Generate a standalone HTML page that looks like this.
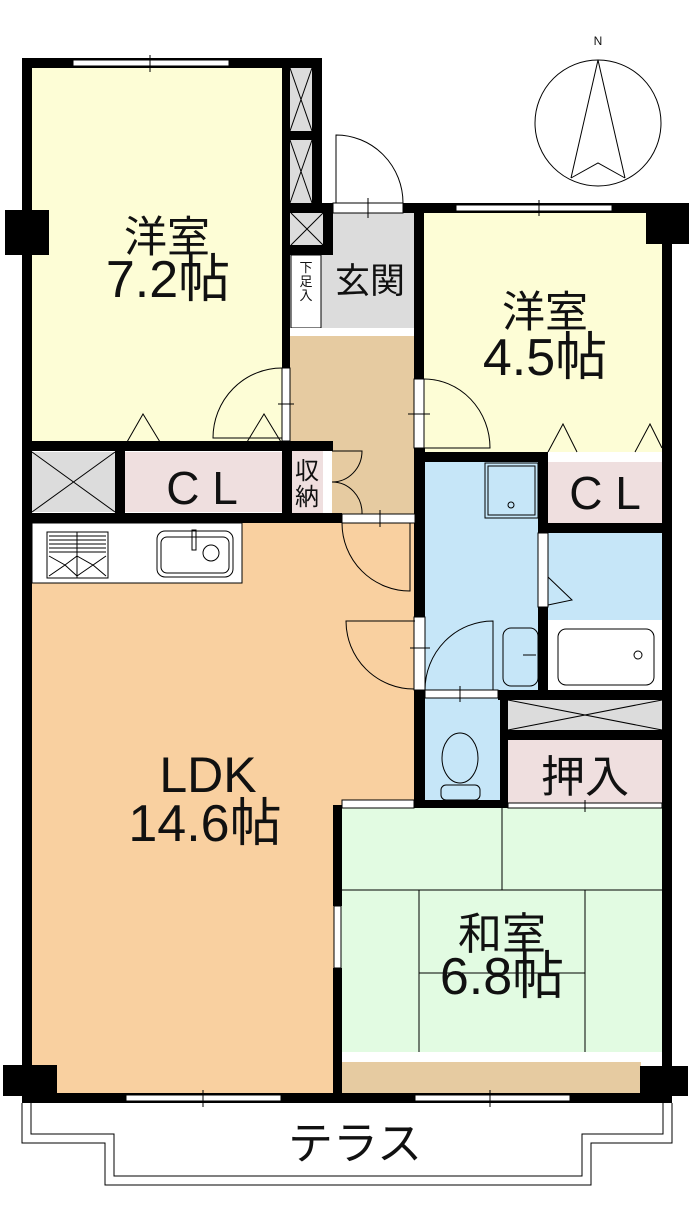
<!DOCTYPE html>
<html><head><meta charset="utf-8"><style>
html,body{margin:0;padding:0;background:#fff;}
svg{display:block;}
text{font-family:"Liberation Sans","Noto Sans CJK JP",sans-serif;fill:#111;}
</style></head><body>
<svg width="694" height="1206" viewBox="0 0 694 1206" xmlns="http://www.w3.org/2000/svg">
<rect x="32" y="68" width="250" height="374" fill="#fdfdd6"/>
<rect x="424" y="213" width="238" height="239" fill="#fdfdd6"/>
<rect x="290" y="213" width="124" height="115" fill="#dcdcdc"/>
<rect x="291" y="255" width="30" height="73" fill="#fff" stroke="#000" stroke-width="1"/>
<rect x="290" y="328" width="124" height="8" fill="#fff"/>
<rect x="290" y="336" width="125" height="179" fill="#e6cba1"/>
<rect x="32" y="523" width="383" height="570" fill="#f9d0a0"/>
<rect x="425" y="462" width="113" height="228" fill="#c6e6f8"/>
<rect x="548" y="533" width="114" height="87" fill="#c6e6f8"/>
<rect x="548" y="620" width="114" height="70" fill="#fff"/>
<rect x="425" y="698" width="75" height="102" fill="#c6e6f8"/>
<rect x="341" y="808" width="322" height="244" fill="#e2fbe2"/>
<rect x="341" y="1052" width="322" height="10" fill="#fff"/>
<rect x="341" y="1062" width="300" height="31" fill="#e6cba1"/>
<rect x="290" y="68" width="22" height="63" fill="#dcdcdc"/>
<rect x="290" y="140" width="22" height="63" fill="#dcdcdc"/>
<rect x="291" y="213" width="32" height="32" fill="#dcdcdc"/>
<rect x="32" y="452" width="83" height="60" fill="#dcdcdc"/>
<rect x="125" y="452" width="157" height="60" fill="#efdfdf"/>
<rect x="125" y="442" width="157" height="10" fill="#fff"/>
<rect x="292" y="450" width="31" height="64" fill="#efdfdf"/>
<rect x="323" y="450" width="9" height="64" fill="#fff"/>
<rect x="548" y="452" width="114" height="10" fill="#fff"/>
<rect x="548" y="462" width="114" height="61" fill="#efdfdf"/>
<rect x="508" y="700" width="154" height="30" fill="#dcdcdc"/>
<rect x="508" y="740" width="154" height="63" fill="#efdfdf"/>
<g stroke="#000" stroke-width="1" fill="none">
<path d="M290 68L312 131M312 68L290 131M290 140L312 203M312 140L290 203M291 213L323 245M323 213L291 245"/>
<path d="M32 452L115 512M115 452L32 512"/>
<path d="M508 700L662 730M662 700L508 730"/>
<path d="M341 890H663M502 808V890M419 890V1052M585 890V1052M419 973H585"/>
</g>
<g fill="#000">
<rect x="22" y="58" width="300" height="10"/>
<rect x="22" y="58" width="10" height="1045"/>
<rect x="5" y="210" width="44" height="45"/>
<rect x="282" y="58" width="8" height="310"/>
<rect x="312" y="58" width="10" height="155"/>
<rect x="290" y="131" width="22" height="9"/>
<rect x="282" y="203" width="51" height="10"/>
<rect x="323" y="203" width="10" height="52"/>
<rect x="282" y="245" width="51" height="10"/>
<rect x="403" y="203" width="270" height="10"/>
<rect x="646" y="203" width="43" height="41"/>
<rect x="662" y="203" width="10" height="900"/>
<rect x="414" y="213" width="10" height="166"/>
<rect x="414" y="448" width="11" height="360"/>
<rect x="22" y="441" width="311" height="10"/>
<rect x="115" y="451" width="10" height="62"/>
<rect x="282" y="441" width="10" height="73"/>
<rect x="22" y="513" width="320" height="10"/>
<rect x="414" y="452" width="134" height="10"/>
<rect x="538" y="452" width="10" height="81"/>
<rect x="538" y="523" width="134" height="10"/>
<rect x="538" y="607" width="10" height="91"/>
<rect x="498" y="690" width="174" height="10"/>
<rect x="500" y="690" width="8" height="118"/>
<rect x="508" y="730" width="154" height="10"/>
<rect x="414" y="800" width="94" height="8"/>
<rect x="333" y="805" width="9" height="101"/>
<rect x="333" y="968" width="9" height="135"/>
<rect x="22" y="1093" width="650" height="10"/>
<rect x="3" y="1065" width="54" height="31"/>
<rect x="640" y="1066" width="48" height="30"/>
</g>
<g fill="#fff" stroke="#000" stroke-width="1">
<rect x="73" y="60" width="156" height="6"/>
<rect x="456" y="205" width="156" height="6"/>
<rect x="126" y="1095" width="155" height="6"/>
<rect x="415" y="1095" width="155" height="6"/>
<rect x="333" y="203" width="70" height="10"/>
<rect x="282" y="368" width="8" height="73"/>
<rect x="414" y="379" width="10" height="69"/>
<rect x="342" y="514" width="73" height="9"/>
<rect x="414" y="617" width="11" height="73"/>
<rect x="425" y="690" width="73" height="8"/>
<rect x="538" y="533" width="10" height="74"/>
<rect x="334" y="906" width="7" height="62"/>
<rect x="342" y="800" width="72" height="8"/>
<rect x="508" y="803" width="154" height="5"/>
</g>
<g stroke="#000" stroke-width="1" fill="none">
<path d="M150 55V72M539 200V216M203 1090V1107M490 1090V1107M368 198V218M278 404H294M408 414H430M380 510V527M410 648H430M460 686V702M585 800V812"/>
<path d="M336 203V135A67 68 0 0 1 403 203"/>
<path d="M282 368A69 70 0 0 0 213 438H282"/>
<path d="M424 379A66 69 0 0 1 490 448H424"/>
<path d="M410 523V591A68 68 0 0 1 342 523"/>
<path d="M415 621H346A68 68 0 0 0 414 689"/>
<path d="M493 690V621A68 69 0 0 0 425 690"/>
<path d="M332 451H362A30 31 0 0 1 332 482A30 31 0 0 1 362 514"/>
<path d="M127 442L143 414L160 442M247 442L264 414L281 442M548 452L563 424L577 452M635 452L650 424L662 448"/>
<path d="M548 577L572 600L548 605"/>
<path d="M22 1103V1143H105V1185H591V1143H672V1103M31 1103V1134H114V1176H582V1134H663V1103"/>
<circle cx="598" cy="123" r="63"/>
<path d="M598 60L571 178M598 60L625 178M571 178L598 163L625 178"/>
</g>
<rect x="32" y="523" width="210" height="60" fill="#fff"/>
<g stroke="#000" stroke-width="1" fill="none">
<rect x="32" y="523" width="210" height="60"/>
<rect x="47" y="532" width="61" height="46"/>
<path d="M49 536H106M49 540H106M49 544H106M49 548H106M49 552H106M77 532V578M49 556L65 565L49 576M65 565L77 556M65 565L77 576M77 556L93 565L106 556M93 565L77 576M93 565L106 576"/>
<rect x="157" y="531" width="76" height="46" rx="8"/>
<rect x="161" y="537" width="68" height="36" rx="6"/>
<circle cx="211" cy="553" r="8"/>
<rect x="192" y="530" width="4" height="20"/>
<rect x="485" y="463" width="53" height="55"/>
<rect x="488" y="466" width="47" height="49"/>
<circle cx="511" cy="505" r="3"/>
<rect x="503" y="628" width="35" height="58" rx="8"/>
<path d="M523 655H536"/>
<rect x="558" y="629" width="96" height="56" rx="8"/>
<circle cx="638" cy="655" r="4"/>
<ellipse cx="460" cy="758" rx="18" ry="25"/>
<rect x="441" y="785" width="39" height="15" rx="5"/>
</g>
<text x="167" y="252" font-size="43" text-anchor="middle">洋室</text>
<text x="168" y="297" font-size="52" text-anchor="middle">7.2帖</text>
<text x="370" y="293" font-size="35" text-anchor="middle">玄関</text>
<text x="306" y="272" font-size="13" text-anchor="middle">下</text>
<text x="306" y="286" font-size="13" text-anchor="middle">足</text>
<text x="306" y="300" font-size="13" text-anchor="middle">入</text>
<text x="545" y="327" font-size="43" text-anchor="middle">洋室</text>
<text x="545" y="375" font-size="52" text-anchor="middle">4.5帖</text>
<text x="202" y="504" font-size="46" text-anchor="middle">C L</text>
<text x="605" y="509" font-size="46" text-anchor="middle">C L</text>
<text x="307" y="479" font-size="24" text-anchor="middle">収</text>
<text x="307" y="505" font-size="24" text-anchor="middle">納</text>
<text x="585" y="792" font-size="44" text-anchor="middle">押入</text>
<text x="208" y="792" font-size="50" text-anchor="middle">LDK</text>
<text x="205" y="841" font-size="52" text-anchor="middle">14.6帖</text>
<text x="502" y="949" font-size="44" text-anchor="middle">和室</text>
<text x="502" y="994" font-size="52" text-anchor="middle">6.8帖</text>
<text x="355" y="1159" font-size="45" text-anchor="middle">テラス</text>
<text x="598" y="45" font-size="12" text-anchor="middle">N</text>
</svg>
</body></html>
